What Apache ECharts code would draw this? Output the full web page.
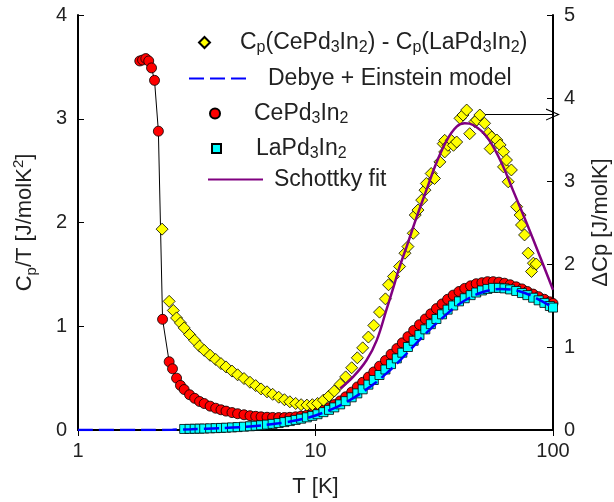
<!DOCTYPE html>
<html>
<head>
<meta charset="utf-8">
<script src="https://cdn.jsdelivr.net/npm/echarts@6/dist/echarts.min.js"></script>
<style>
html, body { margin: 0; padding: 0; background: #fff; }
#main { width: 614px; height: 502px; }
</style>
</head>
<body>
<div id="main"></div>
<script>
// temperature grid shared by the dense CePd3In2 / LaPd3In2 data (K)
var tempK = [2.5, 2.6, 2.7, 2.8, 2.95, 3.1, 3.25, 3.4, 3.6, 3.8, 4.0, 4.2, 4.45, 4.7, 5.0, 5.3, 5.6, 5.9, 6.25, 6.6,
    7.0, 7.4, 7.8, 8.25, 8.7, 9.2, 9.7, 10.2, 10.8, 11.4, 12.0, 12.7, 13.4, 14.2, 15.0, 15.8, 16.7, 17.6, 18.6, 19.7,
    20.8, 22.0, 23.2, 24.5, 25.9, 27.4, 29.0, 30.6, 32.3, 34.1, 36.0, 38.0, 40.2, 42.5, 45.0, 47.5, 50.2, 53.0, 56.0, 59.2,
    62.5, 66.0, 70.0, 74.0, 78.0, 82.5, 87.0, 92.0, 97.0, 100];

// CePd3In2 Cp/T : low-T points below the grid, then on tempK
var ceLowT = [1.82, 1.87, 1.93, 1.985, 2.04, 2.10, 2.18, 2.27, 2.42];
var ceLowCpT = [3.557, 3.566, 3.58, 3.557, 3.49, 3.37, 2.88, 1.067, 0.658];
var ceCpT = [0.59, 0.50, 0.43, 0.39, 0.34, 0.305, 0.275, 0.255, 0.23, 0.21, 0.195, 0.182, 0.168, 0.157, 0.147, 0.138, 0.132, 0.127, 0.123, 0.121,
    0.12, 0.12, 0.122, 0.127, 0.134, 0.143, 0.154, 0.168, 0.19, 0.215, 0.245, 0.28, 0.32, 0.365, 0.415, 0.46, 0.51, 0.56, 0.615, 0.67,
    0.73, 0.785, 0.84, 0.9, 0.96, 1.015, 1.07, 1.12, 1.17, 1.215, 1.26, 1.3, 1.335, 1.365, 1.39, 1.41, 1.42, 1.43, 1.43, 1.425,
    1.415, 1.4, 1.38, 1.36, 1.335, 1.31, 1.285, 1.26, 1.235, 1.22];

// LaPd3In2 Cp/T on tempK starting at 2.8 K
var laCpT = [0.01, 0.011, 0.012, 0.013, 0.014, 0.016, 0.018, 0.02, 0.022, 0.025, 0.028, 0.032, 0.036, 0.041, 0.046, 0.052, 0.059,
    0.067, 0.076, 0.086, 0.097, 0.109, 0.122, 0.136, 0.152, 0.172, 0.194, 0.218, 0.247, 0.278, 0.315, 0.353, 0.392, 0.437, 0.482, 0.53, 0.583,
    0.635, 0.69, 0.745, 0.8, 0.86, 0.915, 0.97, 1.02, 1.07, 1.115, 1.16, 1.2, 1.24, 1.27, 1.3, 1.325, 1.345, 1.36, 1.37, 1.37,
    1.365, 1.355, 1.34, 1.32, 1.3, 1.275, 1.25, 1.225, 1.195, 1.18];

// Debye + Einstein model (Cp/T)
var debT = [1, 2, 2.5, 3, 4, 5, 6, 7, 8, 9, 10, 12, 14, 16, 18, 20, 22, 25, 28, 31, 35, 40, 45, 50, 55, 60, 70, 80, 90, 100];
var debCpT = [0, 0, 0.003, 0.008, 0.018, 0.03, 0.046, 0.064, 0.086, 0.11, 0.14, 0.21, 0.29, 0.375, 0.46, 0.55, 0.64, 0.77, 0.89, 0.99,
    1.1, 1.21, 1.28, 1.325, 1.35, 1.36, 1.345, 1.3, 1.24, 1.18];

// Cp(Ce) - Cp(La), right axis
var dcpT = [2.26, 2.42, 2.52, 2.6, 2.7, 2.8, 2.95, 3.1, 3.25, 3.4, 3.6, 3.8, 4.0, 4.2, 4.45, 4.7, 5.0, 5.3, 5.6, 5.9,
    6.25, 6.6, 7.0, 7.4, 7.8, 8.25, 8.7, 9.2, 9.7, 10.2, 10.8, 11.4, 12.0, 12.7, 13.4, 14.2, 15.0, 15.8, 16.7, 17.6,
    18.6, 19.7, 20.3, 21.3, 22.6, 23.8, 24.5, 25.8, 26.3, 27.0, 28.0, 28.9, 29.3, 30.7, 31.7, 33.4, 34.5, 35.0, 35.0, 36.1,
    37.3, 38.1, 39.3, 40.6, 41.8, 43.3, 44.6, 46.9, 47.7, 49.2, 51.5, 53.4, 54.4, 55.2, 58.0, 59.9, 61.9, 61.9, 63.7, 64.8,
    66.8, 70.3, 72.7, 73.7, 75.9, 78.6, 81.2, 82.7, 85.0];
var dcp = [2.42, 1.55, 1.44, 1.35, 1.29, 1.23, 1.15, 1.08, 1.01, 0.96, 0.9, 0.85, 0.8, 0.76, 0.71, 0.665, 0.62, 0.575, 0.535, 0.495,
    0.46, 0.43, 0.395, 0.365, 0.34, 0.32, 0.305, 0.3, 0.305, 0.32, 0.36, 0.41, 0.47, 0.55, 0.64, 0.75, 0.87, 0.99, 1.12, 1.26,
    1.42, 1.58, 1.75, 1.85, 1.97, 2.13, 2.21, 2.37, 2.59, 2.65, 2.77, 2.89, 2.97, 3.09, 3.03, 3.23, 3.45, 3.35, 3.49, 3.43,
    3.49, 3.43, 3.47, 3.755, 3.795, 3.855, 3.57, 3.715, 3.735, 3.795, 3.695, 3.575, 3.39, 3.53, 3.494, 3.434, 3.353, 3.17, 3.253, 2.99,
    3.133, 2.69, 2.59, 2.47, 2.35, 2.13, 1.91, 2.01, 2.0];

// Schottky fit, right axis
var schT = [12.7, 14.4, 16.4, 18.1, 19.9, 21.3, 22.5, 24.2, 26.7, 29.3, 32.2, 35.7, 39.3, 42.5, 46.1, 52.6, 59.9, 67.8, 77.5, 88.2, 100];
var sch = [0.5, 0.64, 0.84, 1.08, 1.45, 1.72, 1.95, 2.21, 2.57, 2.89, 3.21, 3.49, 3.655, 3.695, 3.675, 3.534, 3.253, 2.89, 2.49, 2.088, 1.69];

// arrow pointing the peak to the right axis
var arrowFrom = [51, 3.8];
var arrowTo = [100, 3.8];

function pairs(xs, ys) {
    return xs.map(function (x, i) { return [x, ys[i]]; });
}

var FONT = "'Liberation Sans', Arial, sans-serif";
var TXT = '#222';

var myChart = echarts.init(document.getElementById('main'));

var sub = { fontSize: 16, lineHeight: 14, verticalAlign: 'bottom', fontFamily: FONT, color: TXT };
var big = { fontSize: 23, lineHeight: 26, fontFamily: FONT, color: TXT };

function legendItem(name, left, top, w, h, gap, label, isLine) {
    var lg = {
        data: [name],
        left: left,
        top: top,
        padding: 0,
        itemWidth: w,
        itemHeight: h,
        selectedMode: false,
        formatter: function () { return '{g|}' + label; },
        textStyle: {
            rich: { g: { width: gap }, t: big, s: sub }
        }
    };
    if (isLine) {
        // only the line in the key, no marker
        lg.itemStyle = { opacity: 0 };
    }
    return lg;
}

var xAxisBase = {
    type: 'log',
    logBase: 10,
    min: 1,
    max: 100,
    axisLine: { show: true, lineStyle: { color: '#000', width: 2 } },
    axisTick: { show: true, inside: true, length: 6, lineStyle: { color: '#000', width: 1 } },
    splitLine: { show: false },
    minorTick: { show: false }
};

var option = {
    animation: false,
    backgroundColor: '#fff',
    grid: { left: 78, right: 61, top: 15, bottom: 72, containLabel: false, outerBoundsMode: 'none' },
    legend: [
        legendItem('dcp', 198, 31, 11, 11, 25,
            '{t|C}{s|p}{t|(CePd}{s|3}{t|In}{s|2}{t|) - C}{s|p}{t|(LaPd}{s|3}{t|In}{s|2}{t|)}'),
        legendItem('deb', 188, 67, 57, 14, 17, '{t|Debye + Einstein model}', true),
        legendItem('ce', 209, 102, 10, 10, 29, '{t|CePd}{s|3}{t|In}{s|2}'),
        legendItem('la', 211, 137, 9, 9, 30, '{t|LaPd}{s|3}{t|In}{s|2}'),
        legendItem('sch', 207, 168, 55, 14, 6, '{t|Schottky fit}', true)
    ],
    xAxis: [
        Object.assign({}, xAxisBase, {
            position: 'bottom',
            name: 'T [K]',
            nameLocation: 'middle',
            nameGap: 46,
            nameTextStyle: { fontSize: 22, fontFamily: FONT, color: TXT },
            axisLabel: { show: true, margin: 11, fontSize: 20, fontFamily: FONT, color: TXT }
        }),
        Object.assign({}, xAxisBase, {
            position: 'top',
            axisLabel: { show: false }
        })
    ],
    yAxis: [
        {
            type: 'value',
            min: 0,
            max: 4,
            interval: 1,
            position: 'left',
            name: '{a|C}{s|p}{a|/T [J/molK}{u|2}{a|]}',
            nameLocation: 'middle',
            nameRotate: 90,
            nameGap: 39,
            nameTextStyle: {
                rich: {
                    a: { fontSize: 22, lineHeight: 28, fontFamily: FONT, color: TXT },
                    s: { fontSize: 15, lineHeight: 14, verticalAlign: 'bottom', fontFamily: FONT, color: TXT },
                    u: { fontSize: 15, lineHeight: 14, verticalAlign: 'top', fontFamily: FONT, color: TXT }
                }
            },
            axisLine: { show: true, lineStyle: { color: '#000', width: 2 } },
            axisTick: { show: true, inside: true, length: 6, lineStyle: { color: '#000', width: 1 } },
            axisLabel: { margin: 11, fontSize: 20, fontFamily: FONT, color: TXT },
            splitLine: { show: false }
        },
        {
            type: 'value',
            min: 0,
            max: 5,
            interval: 1,
            position: 'right',
            name: 'ΔCp [J/molK]',
            nameLocation: 'middle',
            nameRotate: 90,
            nameGap: 37,
            nameTextStyle: { fontSize: 22, fontFamily: FONT, color: TXT },
            axisLine: { show: true, lineStyle: { color: '#000', width: 2 } },
            axisTick: { show: true, inside: true, length: 6, lineStyle: { color: '#000', width: 1 } },
            axisLabel: { margin: 11, fontSize: 20, fontFamily: FONT, color: TXT },
            splitLine: { show: false }
        }
    ],
    series: [
        {
            // thin black line joining the CePd3In2 points
            name: 'ceLine',
            type: 'line',
            data: pairs(ceLowT.concat(tempK), ceLowCpT.concat(ceCpT)),
            showSymbol: false,
            lineStyle: { color: '#000', width: 1 },
            z: 1,
            silent: true
        },
        {
            name: 'ce',
            type: 'scatter',
            data: pairs(ceLowT.concat(tempK), ceLowCpT.concat(ceCpT)),
            symbol: 'circle',
            symbolSize: 10,
            itemStyle: { color: '#ff0000', borderColor: '#000', borderWidth: 0.8, opacity: 1 },
            z: 2
        },
        {
            name: 'la',
            type: 'scatter',
            data: pairs(tempK.slice(3), laCpT),
            symbol: 'rect',
            symbolSize: 9,
            itemStyle: { color: '#00ffff', borderColor: '#000', borderWidth: 0.8, opacity: 1 },
            z: 3
        },
        {
            name: 'deb',
            type: 'line',
            data: pairs(debT, debCpT),
            smooth: 0.3,
            showSymbol: false,
            symbol: 'none',
            lineStyle: { color: '#0000ff', width: 2.5, type: [15, 6] },
            itemStyle: { color: '#0000ff' },
            z: 4
        },
        {
            name: 'dcp',
            type: 'scatter',
            yAxisIndex: 1,
            data: pairs(dcpT, dcp),
            symbol: 'diamond',
            symbolSize: 12,
            itemStyle: { color: '#ffff00', borderColor: '#000', borderWidth: 0.8, opacity: 1 },
            z: 5,
            markLine: {
                silent: true,
                symbol: ['none', 'path://M0,20 L10,0 L20,20 L18,20 L10,4 L2,20 Z'],
                symbolSize: [12, 14],
                label: { show: false },
                lineStyle: { color: '#000', width: 1, type: 'solid' },
                data: [[{ coord: arrowFrom }, { coord: arrowTo }]]
            }
        },
        {
            name: 'sch',
            type: 'line',
            yAxisIndex: 1,
            data: pairs(schT, sch),
            smooth: 0.4,
            showSymbol: false,
            symbol: 'none',
            lineStyle: { color: '#800080', width: 2.5 },
            itemStyle: { color: '#800080' },
            z: 6
        }
    ]
};

myChart.setOption(option);
</script>
</body>
</html>
